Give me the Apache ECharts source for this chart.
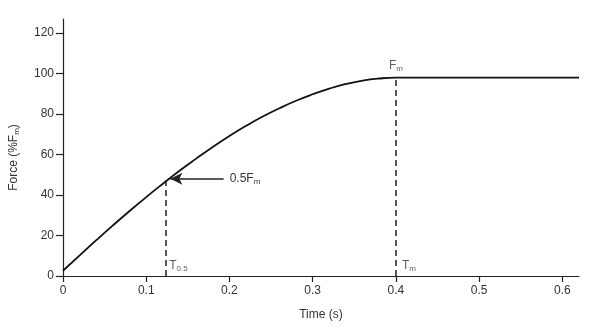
<!DOCTYPE html>
<html>
<head>
<meta charset="utf-8">
<script src="https://cdn.jsdelivr.net/npm/echarts@6/dist/echarts.min.js"></script>
<style>html,body{margin:0;padding:0;background:#fff}#c{width:599px;height:326px}</style>
</head>
<body>
<div id="c"></div>
<script>
// Data
var timeS = [0, 0.02, 0.04, 0.06, 0.08, 0.10, 0.12, 0.14, 0.16, 0.18, 0.20, 0.22, 0.24, 0.26, 0.28, 0.30, 0.32, 0.34, 0.36, 0.38, 0.40, 0.62];
var forcePct = [2.6, 10.2, 17.7, 25.0, 32.1, 39.0, 45.6, 52.0, 58.0, 63.8, 69.2, 74.2, 78.8, 82.9, 86.6, 89.8, 92.6, 94.9, 96.6, 97.6, 98, 98];
var xTicks = [0, 0.1, 0.2, 0.3, 0.4, 0.5, 0.6];
var yTicks = [0, 20, 40, 60, 80, 100, 120];
var tHalf = 0.124, fHalf = 48;
var tMax = 0.4, fMax = 98;
var arrowFrom = 0.193, arrowTo = 0.129;

var FONT = 'Liberation Sans, Arial, sans-serif';
var chart = echarts.init(document.getElementById('c'), null, {renderer: 'canvas'});
var sub = {fontSize: 8, fontFamily: FONT, color: '#333', verticalAlign: 'bottom', padding: [6, 0, 0, 0]};
var main = {fontSize: 12, fontFamily: FONT, color: '#333'};

chart.setOption({
  animation: false,
  backgroundColor: '#fff',
  grid: {left: 60, right: 20, top: 19, bottom: 48},
  xAxis: {
    type: 'value', min: 0, max: 0.62,
    name: 'Time (s)', nameLocation: 'middle', nameGap: 33,
    nameTextStyle: {fontSize: 12, fontFamily: FONT, color: '#333'},
    axisLine: {lineStyle: {color: '#222', width: 1.2}},
    axisTick: {show: true, length: 6, customValues: xTicks, lineStyle: {color: '#222', width: 1.2}},
    axisLabel: {customValues: xTicks, fontSize: 12, fontFamily: FONT, color: '#333', margin: 9,
      formatter: function (v) { return String(+v.toFixed(1)); }},
    splitLine: {show: false}
  },
  yAxis: {
    type: 'value', min: 0, max: 127,
    name: '{m|Force (%F}{s|m}{m|)}', nameLocation: 'middle', nameGap: 42, nameRotate: 90,
    nameTextStyle: {rich: {m: main, s: sub}, padding: [0, 20, 0, 0]},
    axisLine: {show: true, lineStyle: {color: '#222', width: 1.2}},
    axisTick: {show: true, length: 7, customValues: yTicks, lineStyle: {color: '#222', width: 1.2}},
    axisLabel: {customValues: yTicks, fontSize: 12, fontFamily: FONT, color: '#333', margin: 9},
    splitLine: {show: false}
  },
  series: [
    {
      type: 'line', data: timeS.map(function (t, i) { return [t, forcePct[i]]; }),
      smooth: true, showSymbol: false, symbol: 'none',
      lineStyle: {color: '#111', width: 1.8},
      markLine: {
        silent: true, animation: false,
        symbol: ['none', 'none'],
        lineStyle: {color: '#222', width: 1.5, type: [6, 4]},
        label: {show: false},
        data: [
          [{coord: [tHalf, 0]}, {coord: [tHalf, fHalf]}],
          [{coord: [tMax, 0]}, {coord: [tMax, fMax]}],
          [{coord: [arrowTo, fHalf], symbol: 'arrow', symbolSize: [9, 12],
            lineStyle: {type: 'solid', width: 1.5, color: '#222'},
            label: {show: true, position: 'end', distance: 6, formatter: '{m|0.5F}{s|m}', rich: {m: main, s: sub}}},
           {coord: [arrowFrom, fHalf], symbol: 'none'}]
        ]
      }
    },
    {
      type: 'scatter', symbolSize: 0, silent: true,
      data: [
        {value: [tHalf, 5], label: {position: 'right', distance: 3, formatter: '{m|T}{s|0.5}'}},
        {value: [tMax, 5], label: {position: 'right', distance: 6, formatter: '{m|T}{s|m}'}},
        {value: [tMax, fMax], label: {position: 'top', distance: 5, formatter: '{m|F}{s|m}'}}
      ],
      label: {show: true, rich: {m: main, s: sub}}
    }
  ]
});
</script>
</body>
</html>
